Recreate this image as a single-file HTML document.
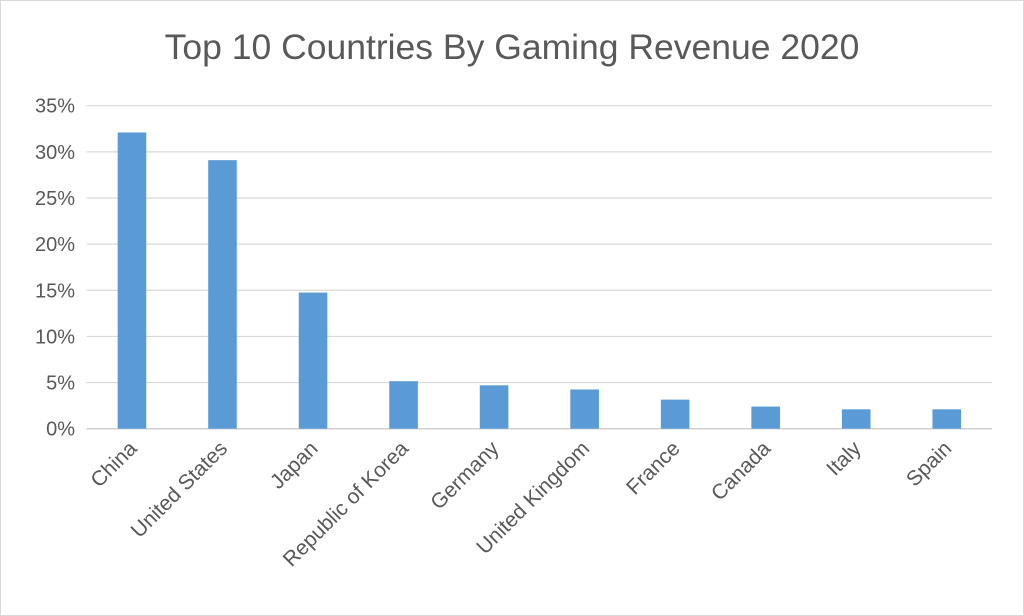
<!DOCTYPE html>
<html><head><meta charset="utf-8"><style>
html,body{margin:0;padding:0;background:#fff}
svg{display:block}
text{font-family:"Liberation Sans",sans-serif;fill:#595959}
</style></head><body>
<svg width="1024" height="616">
<rect x="0.5" y="0.5" width="1023" height="615" fill="#fff" stroke="#d9d9d9"/>
<text x="512" y="59" text-anchor="middle" font-size="35.5">Top 10 Countries By Gaming Revenue 2020</text>
<g id="grid"></g><g id="bars"></g><g id="xl"></g><g id="yl"></g>
</svg>
<script>
const categories=["China","United States","Japan","Republic of Korea","Germany","United Kingdom","France","Canada","Italy","Spain"];
const values=[32.1,29.1,14.75,5.15,4.7,4.25,3.15,2.4,2.1,2.1];
const yTicks=[0,5,10,15,20,25,30,35];
const yTickLabels=["0%","5%","10%","15%","20%","25%","30%","35%"];
const ns="http://www.w3.org/2000/svg";
const L=86.7,R=992,Y0=428.7,Ytop=105.7,YMAX=35;
const y=v=>Y0-(v/YMAX)*(Y0-Ytop);
const band=(R-L)/categories.length;
const x=i=>L+band*(i+0.5);
const bw=28.6;
function mk(t,a,p){const e=document.createElementNS(ns,t);for(const k in a)e.setAttribute(k,a[k]);p.appendChild(e);return e;}
const grid=document.getElementById('grid'),yl=document.getElementById('yl');
yTicks.forEach((t,i)=>{
 const l=mk('line',{x1:L,x2:R,y1:y(t),y2:y(t),stroke:t===0?'#d0d0d0':'#d9d9d9','stroke-width':t===0?1.5:1.2},grid);
 
 
 const tx=mk('text',{x:75,y:y(t)+7,'text-anchor':'end','font-size':20},yl);
 tx.textContent=yTickLabels[i];
 
 
});
const bars=document.getElementById('bars'),xl=document.getElementById('xl');
categories.forEach((c,i)=>{
 const r=mk('rect',{x:x(i)-bw/2,y:y(values[i]),width:bw,height:Y0-y(values[i]),fill:'#5b9bd5'},bars);
 
 
 const t=mk('text',{x:0,y:0,'text-anchor':'end','font-size':21,transform:`translate(${x(i)+6},${Y0+21}) rotate(-45)`},xl);
 t.textContent=c;
 
 
});
</script>
</body></html>
